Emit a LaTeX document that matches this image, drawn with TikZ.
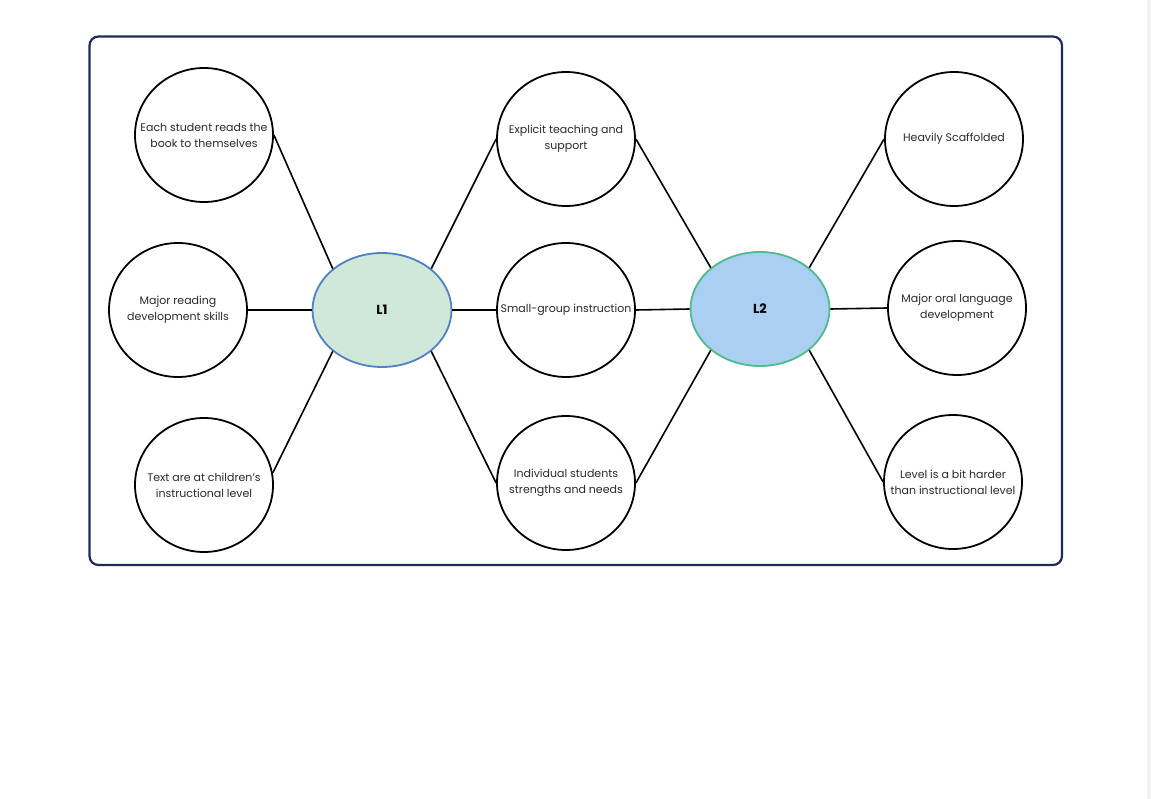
\documentclass[tikz,border=0pt]{standalone}
\usepackage{fontspec}
\setmainfont{Poppins}
\usepackage{tikz}
\usetikzlibrary{shapes.geometric}

\definecolor{framenavy}{HTML}{1C2B5A}
\definecolor{textgray}{HTML}{2A2A2A}
\definecolor{hubgreen}{HTML}{CFE8D9}
\definecolor{hubblue}{HTML}{AACFF2}
\definecolor{rimblue}{HTML}{4F81C4}
\definecolor{rimgreen}{HTML}{4DBB8C}

\begin{document}
\begin{tikzpicture}[x=1pt, y=-1pt,
   bubbletext/.style={align=center, text=textgray, inner sep=0pt,
      font=\fontsize{11}{16}\selectfont},
   bubble/.style={ellipse, draw=black, line width=1.8pt, fill=white,
      minimum width=138pt, minimum height=134pt, inner sep=0pt,
      label={[bubbletext]center:{#1}}},
   hub/.style={ellipse, line width=1.8pt, minimum width=139pt,
      minimum height=114pt, inner sep=0pt, font=\bfseries\fontsize{13}{15}\selectfont},
   link/.style={draw=black, line width=1.6pt}]

   % page and frame
   \fill[white] (0,0) rectangle (1151,799);
   \fill[black!5] (1147,0) rectangle (1151,799);
   \draw[framenavy, line width=2.2pt, rounded corners=9pt] (89.5,36.5) rectangle (1062,565);

   % left column
   \node[bubble={Each student reads the\\book to themselves}] (lt) at (204,135) {};
   \node[bubble={Major reading\\development skills}] (lm) at (178,310) {};
   \node[bubble={Text are at children's\\instructional level}] (lb) at (204,485) {};

   % middle column
   \node[bubble={Explicit teaching and\\support}] (mt) at (566,139) {};
   \node[bubble={Small-group instruction}] (mm) at (566,310) {};
   \node[bubble={Individual students\\strengths and needs}] (mb) at (566,483) {};

   % right column
   \node[bubble={Heavily Scaffolded}] (rt) at (954,139) {};
   \node[bubble={Major oral language\\development}] (rm) at (957,308) {};
   \node[bubble={Level is a bit harder\\than instructional level}] (rb) at (953,482) {};

   % hubs
   \node[hub, fill=hubgreen, draw=rimblue] (L1) at (382,310) {L1};
   \node[hub, fill=hubblue, draw=rimgreen] (L2) at (760,309) {L2};

   \draw[link] (lt.east) -- (L1.140);
   \draw[link] (lm.east) -- (L1.west);
   \draw[link] (lb.10) -- (L1.220);

   \draw[link] (L1.40) -- (mt.west);
   \draw[link] (L1.east) -- (mm.west);
   \draw[link] (L1.320) -- (mb.west);

   \draw[link] (mt.east) -- (L2.140);
   \draw[link] (mm.east) -- (L2.west);
   \draw[link] (mb.east) -- (L2.220);

   \draw[link] (L2.40) -- (rt.west);
   \draw[link] (L2.east) -- (rm.west);
   \draw[link] (L2.320) -- (rb.west);

\end{tikzpicture}
\end{document}
